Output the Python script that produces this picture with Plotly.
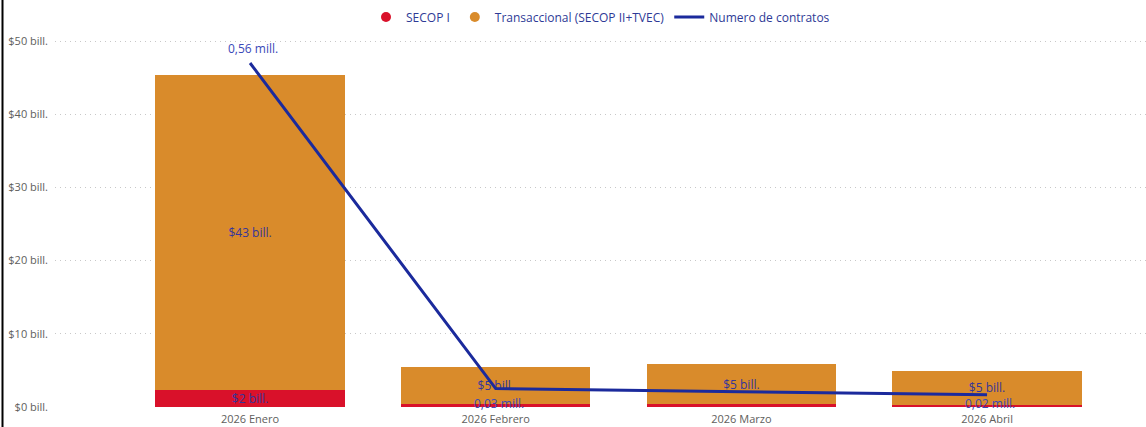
import plotly.graph_objects as go

# ---- data ----
categories = ["2026 Enero", "2026 Febrero", "2026 Marzo", "2026 Abril"]
secop_i = [2.3, 0.4, 0.4, 0.3]                 # $ bill.
transaccional = [43.1, 5.06, 5.47, 4.6]        # $ bill.
num_contratos = [0.56, 0.03, 0.025, 0.02]      # mill.
line_label_visible = [True, True, False, True]
line_label_above = [True, False, False, False]
y_tickvals = [0, 10, 20, 30, 40, 50]
y_ticktext = [f"${v} bill." for v in y_tickvals]

RED = "#d9112a"
ORANGE = "#d98b2b"
NAVY = "#1b2a9c"
LABEL = "#35359a"
FONT = "Segoe UI, Open Sans, sans-serif"

x = list(range(len(categories)))

def bill_label(v):
    return f"${round(v)} bill." if v >= 1 else ""

ml, mr, mt, mb = 55, 0, 35, 20
W, H = 1146, 427
pw, ph = W - ml - mr, H - mt - mb
Y2_MAX = 0.6056

fig = go.Figure()
# legend proxies (circles), in reference order
fig.add_trace(go.Scatter(x=[None], y=[None], mode="markers", name="SECOP I",
                         marker=dict(color=RED, size=10, symbol="circle")))
fig.add_trace(go.Scatter(x=[None], y=[None], mode="markers",
                         name="Transaccional (SECOP II+TVEC)",
                         marker=dict(color=ORANGE, size=10, symbol="circle")))

fig.add_trace(go.Bar(
    x=x, y=secop_i, name="SECOP I", marker=dict(color=RED, line=dict(width=0)),
    width=0.77, showlegend=False,
    text=[bill_label(v) for v in secop_i], textposition="inside",
    insidetextanchor="middle", textangle=0, constraintext="none",
    textfont=dict(color=LABEL, size=12, family=FONT), hoverinfo="skip"))
fig.add_trace(go.Bar(
    x=x, y=transaccional, name="Transaccional (SECOP II+TVEC)",
    marker=dict(color=ORANGE, line=dict(width=0)),
    width=0.77, showlegend=False,
    text=[bill_label(v) for v in transaccional], textposition="inside",
    insidetextanchor="middle", textangle=0, constraintext="none",
    textfont=dict(color=LABEL, size=12, family=FONT), hoverinfo="skip"))

fig.add_trace(go.Scatter(
    x=x, y=num_contratos, name="Numero de contratos", yaxis="y2",
    mode="lines", line=dict(color=NAVY, width=3)))

annotations = []
for xi, v, vis, above in zip(x, num_contratos, line_label_visible, line_label_above):
    if not vis:
        continue
    dist_px = v / Y2_MAX * ph  # distance of point above the axis
    shift = 15 if above else -min(15, dist_px - 3)
    annotations.append(dict(
        x=xi, y=v, xref="x", yref="y2",
        text=f"{v:.2f}".replace(".", ",") + " mill.",
        showarrow=False, yshift=shift, xshift=3,
        font=dict(color="#3a48b8", size=12, family=FONT)))

fig.update_layout(
    width=W, height=H, barmode="stack",
    margin=dict(l=ml, r=mr, t=mt, b=mb),
    paper_bgcolor="white", plot_bgcolor="white",
    font=dict(family=FONT, size=11, color="#605e5c"),
    xaxis=dict(range=[-0.794, 3.647], tickvals=x, ticktext=categories,
               showgrid=False, zeroline=False, showline=False, ticks="",
               ticklabelstandoff=4,
               tickfont=dict(size=11, color="#605e5c")),
    yaxis=dict(range=[0, 50.82], tickvals=y_tickvals, ticktext=y_ticktext,
               showgrid=True, gridcolor="#c8c8c8", griddash="1px,4px", gridwidth=1,
               zeroline=False, showline=False, ticks="", ticklabelstandoff=6,
               tickfont=dict(size=11, color="#605e5c")),
    yaxis2=dict(range=[0, Y2_MAX], overlaying="y", side="right", visible=False,
                showgrid=False),
    legend=dict(orientation="h", x=0.5, xanchor="center", y=1 + (mt - 17) / ph,
                yanchor="middle", font=dict(size=12, color="#2e3a96", family=FONT),
                traceorder="normal", itemwidth=30, tracegroupgap=0,
                bgcolor="rgba(0,0,0,0)"),
    annotations=annotations,
    shapes=[dict(type="line", xref="paper", yref="paper",
                 x0=-(ml - 2.5) / pw, x1=-(ml - 2.5) / pw,
                 y0=-mb / ph, y1=1 + mt / ph,
                 line=dict(color="black", width=2))],
)

fig.write_html("out.html", config={"displayModeBar": False},
               post_script="document.body.style.margin='0';document.body.style.overflow='hidden';")
